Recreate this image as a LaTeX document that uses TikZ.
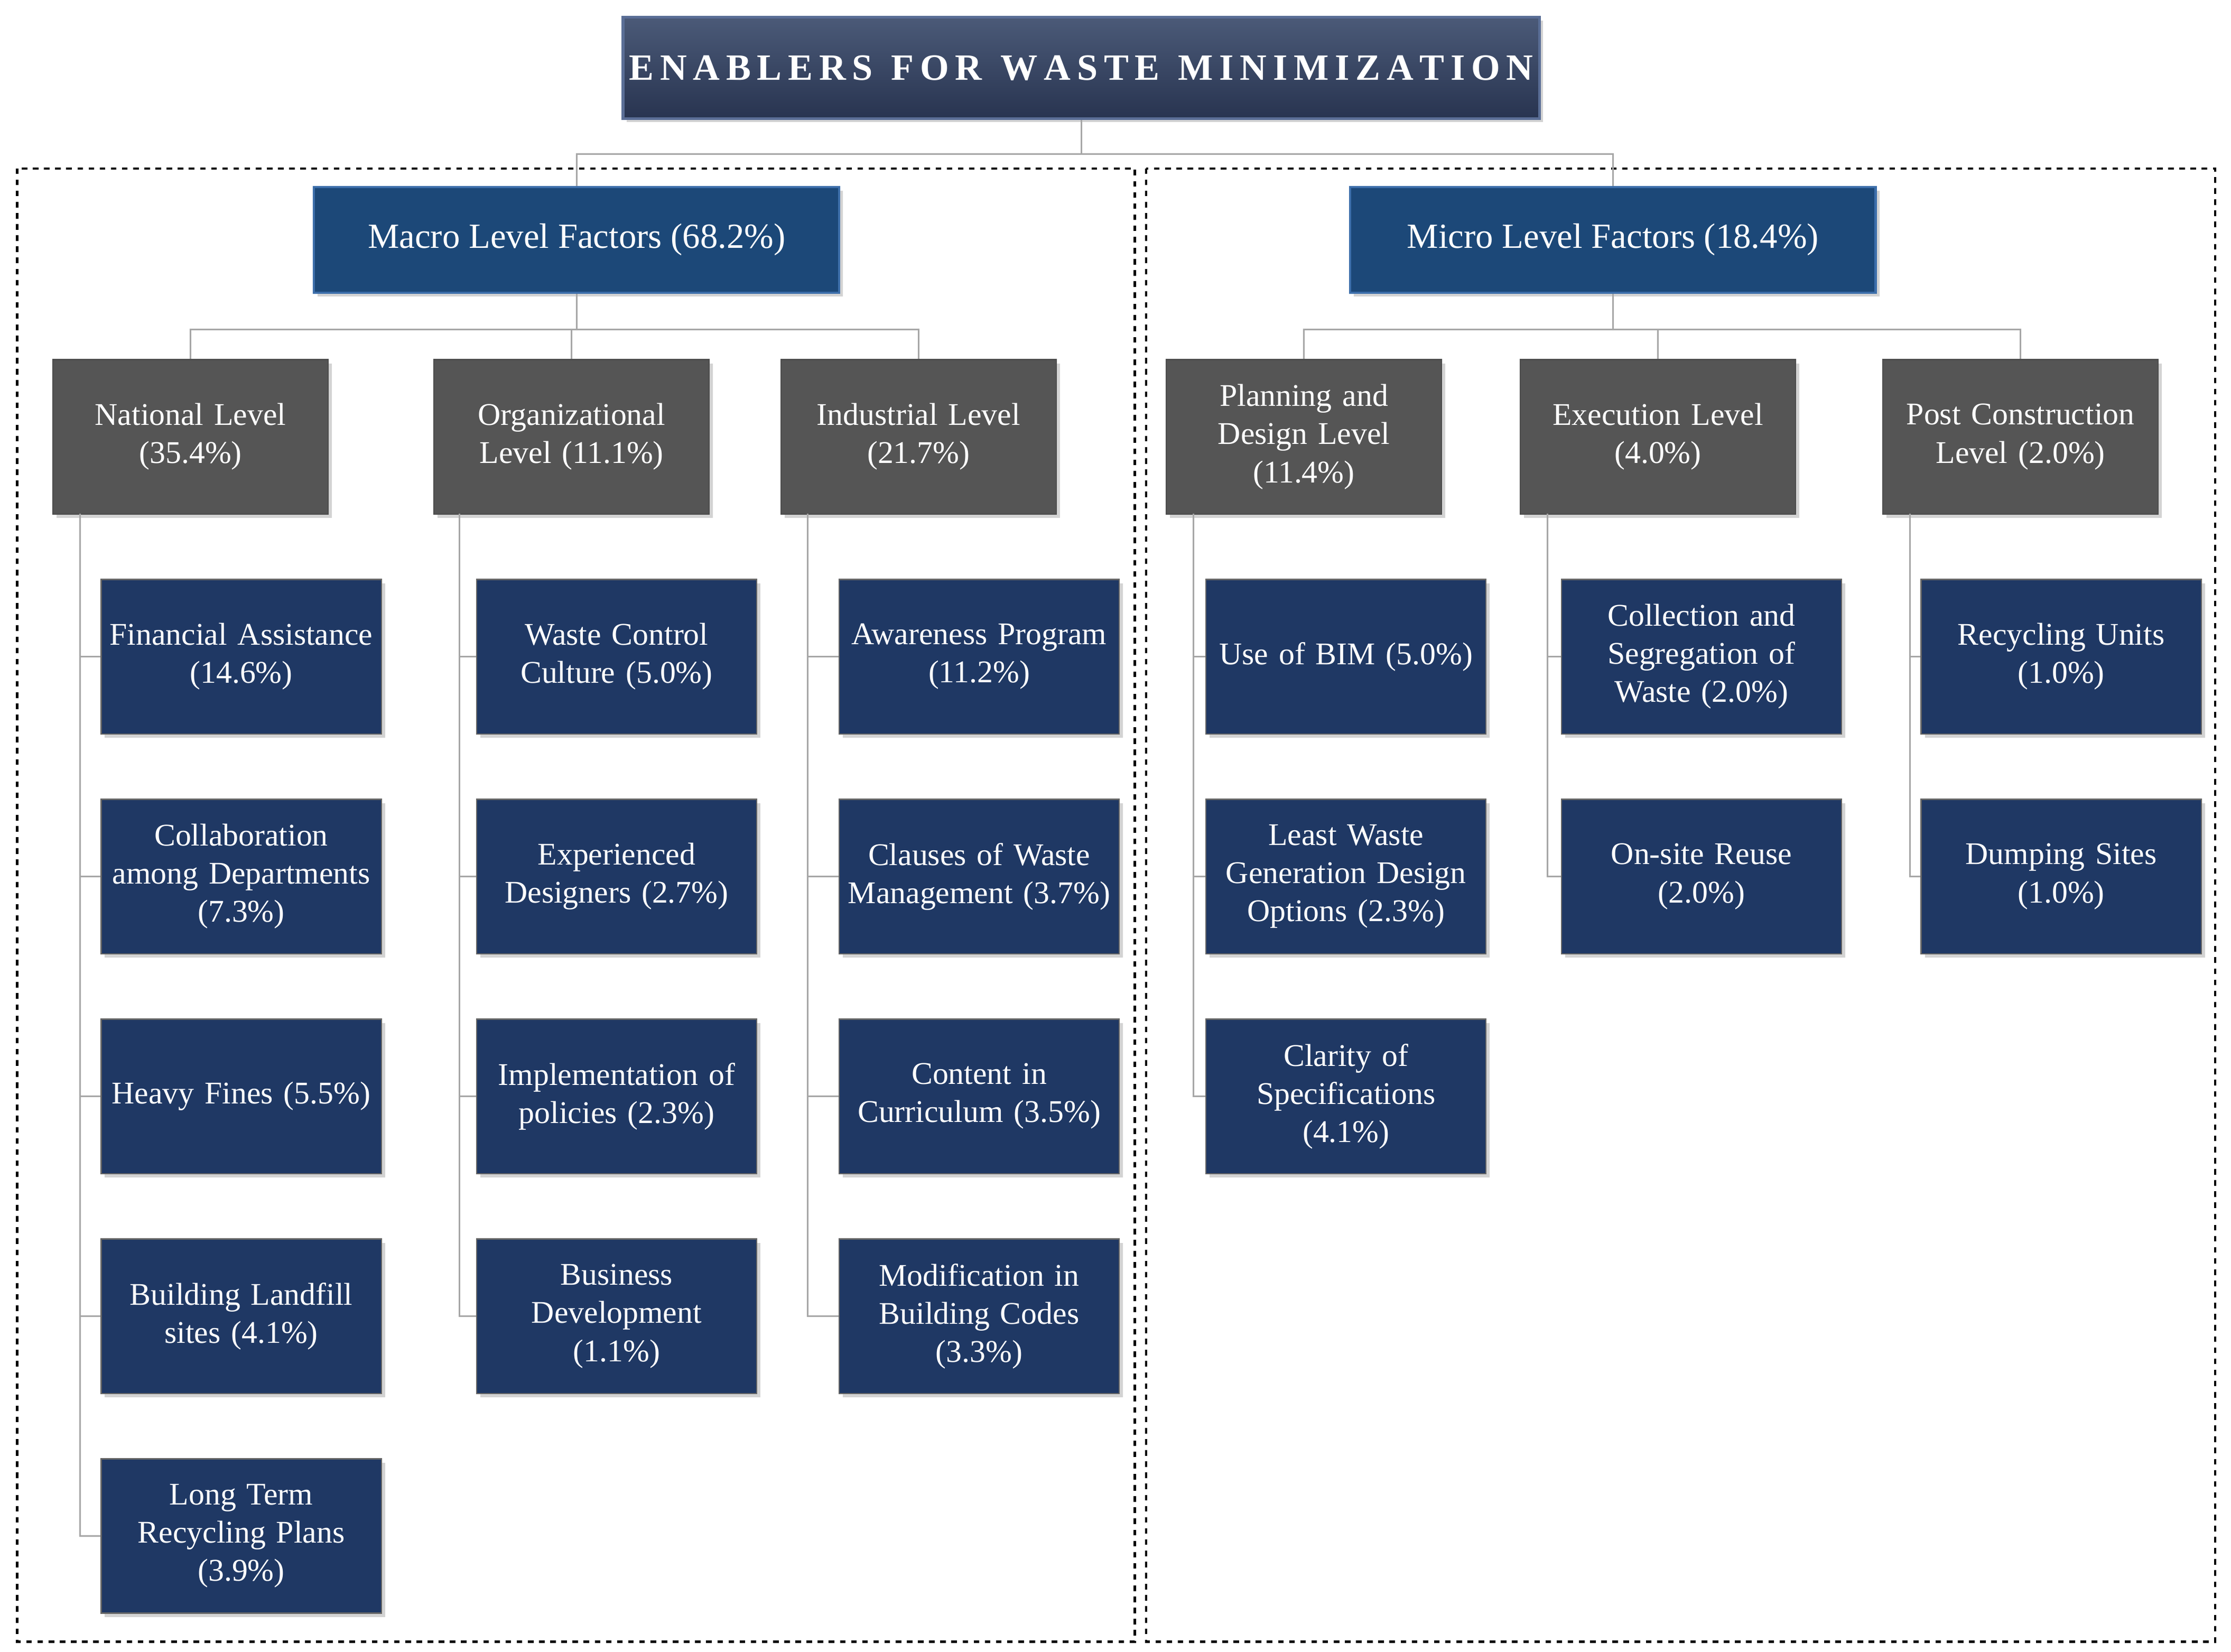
\documentclass[tikz,border=0pt]{standalone}
\usepackage{fontspec}
\setmainfont{Liberation Serif}
\usetikzlibrary{shadows}
\begin{document}
\begin{tikzpicture}[x=0.02701cm,y=-0.02701cm,
 sh/.style={drop shadow={opacity=0.35,shadow xshift=2pt,shadow yshift=-2pt}},
 leaf/.style={sh,draw=black!60,line width=0.6pt,fill={rgb,255:red,31;green,56;blue,100},text=white,minimum width=5.24cm,minimum height=2.92cm,text width=5.3cm,align=center,inner sep=0pt,font=\fontsize{17}{20.5}\selectfont},
 lvl/.style={sh,draw=black!70,line width=0.6pt,fill={rgb,255:red,85;green,85;blue,85},text=white,minimum width=5.21cm,minimum height=2.92cm,text width=5.1cm,align=center,inner sep=0pt,font=\fontsize{17}{20.5}\selectfont},
 mac/.style={sh,draw={rgb,255:red,60;green,110;blue,170},line width=1.2pt,fill={rgb,255:red,28;green,72;blue,120},text=white,minimum width=9.94cm,minimum height=2.0cm,font=\fontsize{19}{23}\selectfont},
 con/.style={draw=black!35,line width=0.8pt},
 box/.style={dashed,line width=1.2pt}]
\useasboundingbox (0,0) rectangle (1563,1157);
\draw[box] (12,118) rectangle (795,1150);
\draw[box] (803,118) rectangle (1552,1150);
\node[sh,draw={rgb,255:red,90;green,110;blue,150},line width=1.5pt,top color={rgb,255:red,75;green,90;blue,120},bottom color={rgb,255:red,40;green,52;blue,80},text=white,minimum width=17.15cm,minimum height=1.92cm,font=\bfseries\fontsize{20}{24}\selectfont] (T) at (757.5,47.5) {E\,N\,A\,B\,L\,E\,R\,S\ \ F\,O\,R\ \ W\,A\,S\,T\,E\ \ M\,I\,N\,I\,M\,I\,Z\,A\,T\,I\,O\,N};
\node[mac] (MA) at (404,168) {Macro Level Factors (68.2\%)};
\node[mac] (MI) at (1130,168) {Micro Level Factors (18.4\%)};
\draw[con] (T.south) -- ++(0,24) -| (MA.north);
\draw[con] (T.south) -- ++(0,24) -| (MI.north);
\node[lvl] (L1) at (133.5,306) {National Level\\(35.4\%)};
\node[lvl] (L2) at (400.5,306) {Organizational\\Level (11.1\%)};
\node[lvl] (L3) at (643.5,306) {Industrial Level\\(21.7\%)};
\node[lvl] (L4) at (913.5,306) {Planning and\\Design Level\\(11.4\%)};
\node[lvl] (L5) at (1161.5,306) {Execution Level\\(4.0\%)};
\node[lvl] (L6) at (1415.5,306) {Post Construction\\Level (2.0\%)};
\foreach \l in {L1,L2,L3} \draw[con] (MA.south) -- ++(0,25) -| (\l.north);
\foreach \l in {L4,L5,L6} \draw[con] (MI.south) -- ++(0,25) -| (\l.north);
% National
\node[leaf] (A1) at (169,460) {Financial Assistance\\(14.6\%)};
\node[leaf] (A2) at (169,614) {Collaboration\\among Departments\\(7.3\%)};
\node[leaf] (A3) at (169,768) {Heavy Fines (5.5\%)};
\node[leaf] (A4) at (169,922) {Building Landfill\\sites (4.1\%)};
\node[leaf] (A5) at (169,1076) {Long Term\\Recycling Plans\\(3.9\%)};
\node[leaf] (B1) at (432,460) {Waste Control\\Culture (5.0\%)};
\node[leaf] (B2) at (432,614) {Experienced\\Designers (2.7\%)};
\node[leaf] (B3) at (432,768) {Implementation of\\policies (2.3\%)};
\node[leaf] (B4) at (432,922) {Business\\Development\\(1.1\%)};
\node[leaf] (C1) at (686,460) {Awareness Program\\(11.2\%)};
\node[leaf] (C2) at (686,614) {Clauses of Waste\\Management (3.7\%)};
\node[leaf] (C3) at (686,768) {Content in\\Curriculum (3.5\%)};
\node[leaf] (C4) at (686,922) {Modification in\\Building Codes\\(3.3\%)};
\node[leaf] (D1) at (943,460) {Use of BIM (5.0\%)};
\node[leaf] (D2) at (943,614) {Least Waste\\Generation Design\\Options (2.3\%)};
\node[leaf] (D3) at (943,768) {Clarity of\\Specifications\\(4.1\%)};
\node[leaf] (E1) at (1192,460) {Collection and\\Segregation of\\Waste (2.0\%)};
\node[leaf] (E2) at (1192,614) {On-site Reuse\\(2.0\%)};
\node[leaf] (F1) at (1444,460) {Recycling Units\\(1.0\%)};
\node[leaf] (F2) at (1444,614) {Dumping Sites\\(1.0\%)};
\coordinate (tA) at (56,360); \coordinate (tB) at (322,360); \coordinate (tC) at (566,360);
\coordinate (tD) at (836,360); \coordinate (tE) at (1084,360); \coordinate (tF) at (1338,360);
\draw[con] (tA) |- (A5.west); \foreach \n in {A1,A2,A3,A4} \draw[con] (\n.west) -- (\n.west -| tA);
\draw[con] (tB) |- (B4.west); \foreach \n in {B1,B2,B3} \draw[con] (\n.west) -- (\n.west -| tB);
\draw[con] (tC) |- (C4.west); \foreach \n in {C1,C2,C3} \draw[con] (\n.west) -- (\n.west -| tC);
\draw[con] (tD) |- (D3.west); \foreach \n in {D1,D2} \draw[con] (\n.west) -- (\n.west -| tD);
\draw[con] (tE) |- (E2.west); \draw[con] (E1.west) -- (E1.west -| tE);
\draw[con] (tF) |- (F2.west); \draw[con] (F1.west) -- (F1.west -| tF);
\end{tikzpicture}
\end{document}
